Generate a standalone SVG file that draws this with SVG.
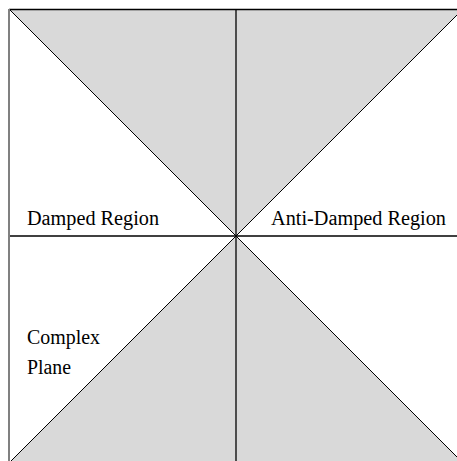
<svg xmlns="http://www.w3.org/2000/svg" width="457" height="461" viewBox="0 0 457 461">
  <style>
    .fill { fill: #d9d9d9; stroke: none; }
    .diag { stroke: #000; stroke-width: 1; fill: none; }
    .axis { stroke: #000; stroke-width: 1.3; fill: none; }
    text { font-family: 'Liberation Serif', 'DejaVu Serif', serif; font-size: 20px; fill: #000; }
  </style>
  <rect x="0" y="0" width="457" height="461" fill="#fff"/>
  <g id="regions">
    <polygon class="fill" points="10,10 462,10 236,236"/>
    <polygon class="fill" points="10,462 462,462 236,236"/>
  </g>
  <g id="connectors">
    <line class="diag" x1="10" y1="10" x2="462" y2="462"/>
    <line class="diag" x1="10" y1="462" x2="462" y2="10"/>
    <line class="axis" x1="236" y1="10" x2="236" y2="461"/>
    <line class="axis" x1="10" y1="236" x2="457" y2="236"/>
    <line x1="9" y1="9.5" x2="457" y2="9.5" stroke="#000" stroke-width="1.5"/>
    <line x1="9" y1="9" x2="9" y2="461" stroke="#808080" stroke-width="2"/>
  </g>
  <g id="damped">
    <text x="27" y="225" textLength="132" lengthAdjust="spacingAndGlyphs">Damped Region</text>
  </g>
  <g id="antidamped">
    <text x="271" y="225" textLength="175" lengthAdjust="spacingAndGlyphs">Anti-Damped Region</text>
  </g>
  <g id="complex">
    <text x="27" y="344" textLength="73" lengthAdjust="spacingAndGlyphs">Complex</text>
    <text x="27" y="374" textLength="44" lengthAdjust="spacingAndGlyphs">Plane</text>
  </g>
</svg>
